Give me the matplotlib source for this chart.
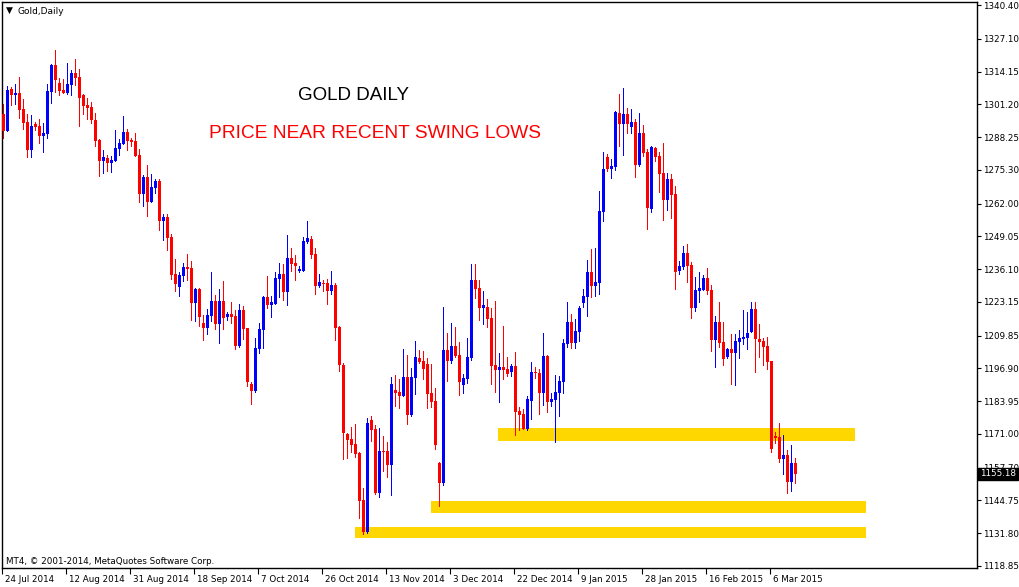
import numpy as np
import matplotlib
matplotlib.use("Agg")
import matplotlib.pyplot as plt
from matplotlib.patches import Rectangle
import matplotlib.transforms as mtransforms

# ---------------------------------------------------------
# DATA: Gold daily candles, 24 Jul 2014 -> Mar 2015
# ---------------------------------------------------------
opens = [
    1297.4, 1290.8, 1307.2, 1305.0, 1305.7, 1299.3, 1294.2, 1283.3, 1293.4, 1292.6,
    1288.8, 1289.6, 1306.1, 1316.7, 1309.6, 1306.8, 1305.8, 1309.0, 1313.6, 1312.0,
    1304.9, 1300.9, 1300.1, 1295.0, 1287.2, 1278.9, 1280.0, 1278.1, 1278.9, 1283.7,
    1285.5, 1290.3, 1287.2, 1286.7, 1281.2, 1265.9, 1272.6, 1262.7, 1268.3, 1270.9,
    1255.2, 1256.7, 1248.8, 1234.2, 1229.2, 1233.5, 1236.5, 1236.5, 1222.8, 1228.2,
    1214.8, 1213.0, 1217.7, 1223.5, 1214.5, 1223.5, 1217.3, 1218.4, 1217.7, 1205.9,
    1219.9, 1212.8, 1190.8, 1188.1, 1204.7, 1212.2, 1225.1, 1222.0, 1222.4, 1232.3,
    1234.2, 1227.2, 1240.5, 1238.5, 1235.5, 1235.4, 1246.8, 1248.0, 1242.1, 1229.6,
    1230.6, 1230.6, 1227.6, 1229.8, 1213.2, 1198.2, 1171.1, 1169.1, 1167.0, 1163.6,
    1145.0, 1132.4, 1176.6, 1173.1, 1147.8, 1164.4, 1164.4, 1158.8, 1188.5, 1187.7,
    1186.1, 1193.6, 1178.6, 1193.2, 1201.1, 1199.9, 1198.7, 1187.3, 1184.1, 1159.6,
    1151.7, 1204.3, 1199.9, 1205.9, 1202.3, 1190.4, 1192.8, 1201.1, 1231.9, 1228.8,
    1220.9, 1221.3, 1216.9, 1198.3, 1196.4, 1197.6, 1196.8, 1195.6, 1197.8, 1180.0,
    1179.0, 1173.0, 1184.0, 1195.4, 1194.9, 1187.3, 1201.8, 1183.7, 1184.5, 1187.3,
    1191.6, 1206.6, 1215.2, 1207.0, 1211.4, 1222.7, 1225.1, 1234.9, 1229.5, 1230.7,
    1258.6, 1280.4, 1275.6, 1276.3, 1297.8, 1293.5, 1297.4, 1292.4, 1294.2, 1277.4,
    1289.9, 1282.4, 1260.0, 1283.9, 1280.8, 1274.1, 1263.5, 1271.7, 1265.8, 1235.5,
    1237.1, 1242.5, 1237.7, 1220.9, 1227.6, 1227.8, 1232.6, 1227.8, 1208.2, 1215.2,
    1207.3, 1201.5, 1204.5, 1203.1, 1207.4, 1208.5, 1209.0, 1211.2, 1220.3, 1208.5,
    1207.7, 1205.7, 1199.8, 1170.3, 1169.8, 1161.2, 1162.6, 1152.1, 1159.5,
]
highs = [
    1301.3, 1308.4, 1308.2, 1309.2, 1312.1, 1303.3, 1297.4, 1297.0, 1294.3, 1295.4,
    1293.8, 1309.2, 1317.1, 1322.6, 1311.6, 1311.2, 1317.5, 1314.7, 1319.1, 1315.1,
    1305.3, 1303.7, 1302.1, 1297.8, 1287.6, 1283.1, 1281.2, 1280.9, 1291.2, 1287.6,
    1296.6, 1291.4, 1288.0, 1289.9, 1283.5, 1273.3, 1277.2, 1273.7, 1271.7, 1271.7,
    1258.0, 1257.9, 1250.1, 1240.1, 1235.0, 1238.5, 1242.1, 1239.3, 1228.8, 1228.5,
    1218.0, 1220.5, 1235.0, 1225.9, 1228.2, 1231.4, 1219.3, 1223.1, 1219.9, 1222.2,
    1221.5, 1213.0, 1191.6, 1209.0, 1214.9, 1225.5, 1233.4, 1225.5, 1235.0, 1238.5,
    1238.1, 1249.6, 1244.4, 1241.7, 1237.3, 1248.8, 1255.1, 1249.2, 1244.4, 1234.2,
    1231.8, 1232.2, 1235.5, 1230.6, 1213.6, 1199.0, 1171.5, 1173.9, 1175.0, 1163.8,
    1149.8, 1177.4, 1178.2, 1174.6, 1173.5, 1170.3, 1167.9, 1193.6, 1194.4, 1192.8,
    1204.7, 1202.3, 1197.2, 1207.8, 1204.3, 1203.9, 1201.1, 1198.7, 1189.3, 1160.0,
    1221.3, 1211.0, 1214.9, 1213.4, 1207.4, 1194.8, 1209.0, 1238.3, 1238.3, 1231.9,
    1227.6, 1224.4, 1220.9, 1223.6, 1203.1, 1213.8, 1201.4, 1198.7, 1203.3, 1181.7,
    1180.9, 1186.0, 1199.4, 1197.3, 1196.8, 1210.8, 1202.0, 1187.3, 1194.4, 1193.9,
    1208.5, 1223.1, 1218.5, 1216.4, 1221.5, 1228.2, 1239.7, 1244.0, 1244.6, 1267.1,
    1282.4, 1281.6, 1279.6, 1298.6, 1305.4, 1307.6, 1299.7, 1299.3, 1295.4, 1297.8,
    1293.0, 1283.5, 1284.7, 1284.3, 1282.5, 1285.9, 1274.1, 1273.8, 1268.9, 1239.3,
    1245.2, 1246.0, 1238.9, 1233.1, 1235.1, 1233.9, 1236.7, 1229.8, 1217.6, 1223.1,
    1215.2, 1204.9, 1210.5, 1210.5, 1212.0, 1219.9, 1219.3, 1223.1, 1223.1, 1214.4,
    1208.9, 1209.3, 1200.0, 1171.7, 1175.3, 1170.5, 1164.6, 1166.7, 1161.6,
]
lows = [
    1287.4, 1290.4, 1300.7, 1300.9, 1295.4, 1291.0, 1280.1, 1280.1, 1290.8, 1285.6,
    1282.1, 1287.5, 1301.4, 1305.5, 1304.6, 1305.1, 1305.0, 1304.6, 1308.6, 1292.4,
    1297.0, 1295.1, 1293.5, 1284.5, 1272.6, 1273.8, 1274.6, 1274.2, 1278.5, 1280.9,
    1285.1, 1282.9, 1284.5, 1280.5, 1262.2, 1260.8, 1256.8, 1262.3, 1265.9, 1251.3,
    1247.3, 1243.4, 1231.8, 1227.1, 1225.1, 1231.1, 1231.4, 1215.7, 1215.3, 1213.2,
    1207.8, 1210.2, 1215.2, 1212.2, 1206.6, 1212.2, 1215.7, 1214.5, 1204.3, 1205.1,
    1208.2, 1189.7, 1182.5, 1187.3, 1202.7, 1204.7, 1220.5, 1216.9, 1222.0, 1224.8,
    1223.6, 1221.6, 1235.0, 1231.5, 1234.7, 1235.0, 1246.2, 1240.1, 1226.0, 1228.6,
    1227.2, 1222.0, 1226.0, 1207.8, 1195.5, 1160.8, 1161.2, 1163.6, 1161.6, 1137.5,
    1131.2, 1131.6, 1167.9, 1147.0, 1145.8, 1156.1, 1153.7, 1146.6, 1181.8, 1181.0,
    1185.7, 1174.6, 1177.8, 1186.5, 1198.7, 1192.4, 1181.0, 1181.4, 1164.8, 1142.2,
    1150.5, 1191.6, 1198.7, 1201.1, 1186.1, 1186.9, 1190.8, 1199.9, 1224.4, 1215.7,
    1214.2, 1213.0, 1190.4, 1187.3, 1183.3, 1192.4, 1193.6, 1193.6, 1170.3, 1172.3,
    1172.5, 1172.3, 1176.5, 1192.7, 1178.4, 1182.0, 1179.4, 1181.7, 1167.3, 1177.8,
    1186.6, 1204.9, 1204.7, 1204.7, 1207.3, 1220.9, 1217.3, 1224.8, 1225.2, 1225.9,
    1254.8, 1274.6, 1271.8, 1275.0, 1284.5, 1280.9, 1289.6, 1289.6, 1272.2, 1276.6,
    1280.5, 1251.7, 1258.4, 1278.5, 1266.3, 1255.2, 1259.2, 1256.0, 1228.0, 1233.9,
    1235.9, 1230.7, 1216.5, 1219.3, 1222.8, 1227.4, 1226.0, 1203.5, 1197.2, 1205.1,
    1197.9, 1200.7, 1190.4, 1190.0, 1200.7, 1206.2, 1204.3, 1210.8, 1195.2, 1201.1,
    1197.9, 1196.4, 1163.6, 1167.1, 1159.6, 1154.9, 1147.4, 1148.2, 1151.3,
]
closes = [
    1290.8, 1306.8, 1304.9, 1305.8, 1299.1, 1293.9, 1283.3, 1292.6, 1292.4, 1288.8,
    1289.9, 1306.4, 1316.7, 1310.9, 1306.4, 1305.8, 1309.2, 1313.6, 1311.7, 1303.8,
    1300.7, 1299.9, 1295.1, 1286.8, 1278.9, 1280.4, 1278.1, 1279.1, 1283.9, 1285.9,
    1290.3, 1286.8, 1286.4, 1280.9, 1265.9, 1272.6, 1262.7, 1268.5, 1270.9, 1255.2,
    1256.7, 1248.5, 1233.8, 1230.3, 1233.8, 1236.9, 1236.3, 1222.8, 1228.4, 1217.3,
    1213.0, 1218.0, 1223.5, 1214.5, 1223.5, 1216.9, 1218.4, 1217.3, 1205.9, 1219.9,
    1212.6, 1191.6, 1188.1, 1204.9, 1212.4, 1225.1, 1222.0, 1223.1, 1232.6, 1234.2,
    1227.2, 1240.5, 1238.2, 1237.5, 1235.7, 1247.2, 1248.4, 1241.8, 1229.6, 1231.0,
    1230.3, 1227.6, 1229.8, 1213.0, 1198.2, 1171.5, 1168.7, 1166.7, 1163.2, 1144.6,
    1132.4, 1175.4, 1172.7, 1147.8, 1164.4, 1164.0, 1158.8, 1190.8, 1187.3, 1186.1,
    1193.6, 1178.6, 1193.6, 1201.5, 1199.5, 1196.8, 1186.9, 1183.7, 1166.7, 1151.7,
    1204.3, 1199.9, 1205.9, 1201.9, 1191.6, 1193.2, 1201.5, 1231.9, 1228.4, 1220.9,
    1222.1, 1216.5, 1198.0, 1196.4, 1197.6, 1196.4, 1194.8, 1197.8, 1179.8, 1178.6,
    1173.0, 1184.8, 1195.4, 1195.2, 1187.3, 1201.8, 1183.7, 1184.8, 1187.5, 1191.9,
    1206.9, 1215.2, 1207.0, 1211.6, 1220.7, 1225.5, 1234.9, 1229.5, 1231.0, 1259.0,
    1275.6, 1275.6, 1276.8, 1298.0, 1293.5, 1297.4, 1293.5, 1294.2, 1277.4, 1289.9,
    1282.1, 1260.4, 1284.3, 1280.5, 1273.8, 1263.5, 1271.7, 1265.5, 1235.1, 1237.3,
    1242.5, 1237.5, 1220.9, 1227.8, 1228.6, 1232.6, 1227.6, 1208.2, 1215.2, 1207.0,
    1200.7, 1204.5, 1203.1, 1207.7, 1208.9, 1209.4, 1210.9, 1220.3, 1208.6, 1207.4,
    1205.4, 1199.5, 1165.2, 1169.5, 1161.2, 1162.6, 1152.1, 1159.5, 1155.18,
]

# one label every 16 bars (MT4 shows Sun-Fri bars)
date_labels = [
    "24 Jul 2014", "12 Aug 2014", "31 Aug 2014", "18 Sep 2014", "7 Oct 2014",
    "26 Oct 2014", "13 Nov 2014", "3 Dec 2014", "22 Dec 2014", "9 Jan 2015",
    "28 Jan 2015", "16 Feb 2015", "6 Mar 2015",
]
price_ticks = [
    1340.40, 1327.10, 1314.15, 1301.20, 1288.25, 1275.30, 1262.00, 1249.05, 1236.10,
    1223.15, 1209.85, 1196.90, 1183.95, 1171.00, 1157.70, 1144.75, 1131.80, 1118.85,
]
last_price = 1155.18

# yellow support zones drawn on the chart (bar start, bar end, low, high)
zone_start = [123.6, 106.9, 87.9]
zone_end = [212.9, 215.7, 215.7]
zone_low = [1168.3, 1139.9, 1130.0]
zone_high = [1173.4, 1144.5, 1134.2]

# ---------------------------------------------------------
# PLOT
# ---------------------------------------------------------
plt.rcParams['font.family'] = ['DejaVu Sans']
W, H = 1020, 587
fig = plt.figure(figsize=(W / 100, H / 100), dpi=100)
fig.patch.set_facecolor('white')
ax = fig.add_axes([2.3 / W, 1 - 568 / H, (976.7 - 2.3) / W, (568 - 2.3) / H])

o = np.array(opens)
h = np.array(highs)
l = np.array(lows)
c = np.array(closes)
idx = np.arange(len(o))
colors = np.where(c > o, '#0000ff', '#ff0000')

for s, e, lo, hi in zip(zone_start, zone_end, zone_low, zone_high):
    ax.add_patch(Rectangle((s, lo), e - s, hi - lo, facecolor='#ffd700',
                           edgecolor='none', zorder=1, antialiased=False))

# wicks (1 px) then bodies (3 px), crisp like the terminal
ax.bar(idx, h - l, bottom=l, width=0.3, color=colors, linewidth=0,
       zorder=2, antialiased=False)
body_low = np.minimum(o, c)
body_h = np.maximum(np.abs(c - o), 0.45)
ax.bar(idx, body_h, bottom=body_low, width=0.75, color=colors, linewidth=0,
       zorder=3, antialiased=False)

ax.set_xlim(-0.25, 243.35)
ax.set_ylim(1118.04, 1341.49)

for sp in ax.spines.values():
    sp.set_color('black')
    sp.set_linewidth(1.0)

# price axis on the right
ax.yaxis.tick_right()
ax.set_yticks(price_ticks)
ax.set_yticklabels([f"{v:.2f}" for v in price_ticks])
ax.tick_params(axis='y', direction='out', length=3, width=0.8, pad=1.5,
               labelsize=6.3, colors='black')

# date axis at the bottom, labels start just right of each tick
ax.set_xticks(np.arange(len(date_labels)) * 16 - 0.3)
ax.set_xticklabels(date_labels)
ax.tick_params(axis='x', direction='out', length=4, width=0.8, pad=1,
               labelsize=6.3, colors='black')
offset = mtransforms.ScaledTranslation(3 / 100, 0, fig.dpi_scale_trans)
for lab in ax.get_xticklabels():
    lab.set_horizontalalignment('left')
    lab.set_transform(lab.get_transform() + offset)

# last price marker (covers part of the nearby tick label, as in the terminal)
ax.annotate(f"{last_price:.2f}", xy=(1, last_price),
            xycoords=('axes fraction', 'data'), xytext=(2.2, 0),
            textcoords='offset points', ha='left', va='center',
            fontsize=6.3, color='white', zorder=10, annotation_clip=False,
            bbox=dict(boxstyle='square,pad=0.2', fc='black', ec='black'))

# header and footer texts
fig.text(9.5 / W, 1 - 10.5 / H, "\u25bc", fontsize=6.5, ha='center', va='center', color='black')
fig.text(18 / W, 1 - 11 / H, "Gold,Daily", fontsize=6.5, ha='left', va='center', color='black')
fig.text(6 / W, 1 - 561 / H, "MT4, \u00a9 2001-2014, MetaQuotes Software Corp.",
         fontsize=6.3, ha='left', va='center', color='#000000')

fig.text(354 / W, 1 - 96 / H, "GOLD DAILY", fontsize=13.5, family='Liberation Sans',
         ha='center', va='center', color='black')
fig.text(375 / W, 1 - 133 / H, "PRICE NEAR RECENT SWING LOWS", fontsize=13.8,
         family='Liberation Sans', ha='center', va='center', color='#ff0000')

fig.savefig("out.png", dpi=100, facecolor='white')
